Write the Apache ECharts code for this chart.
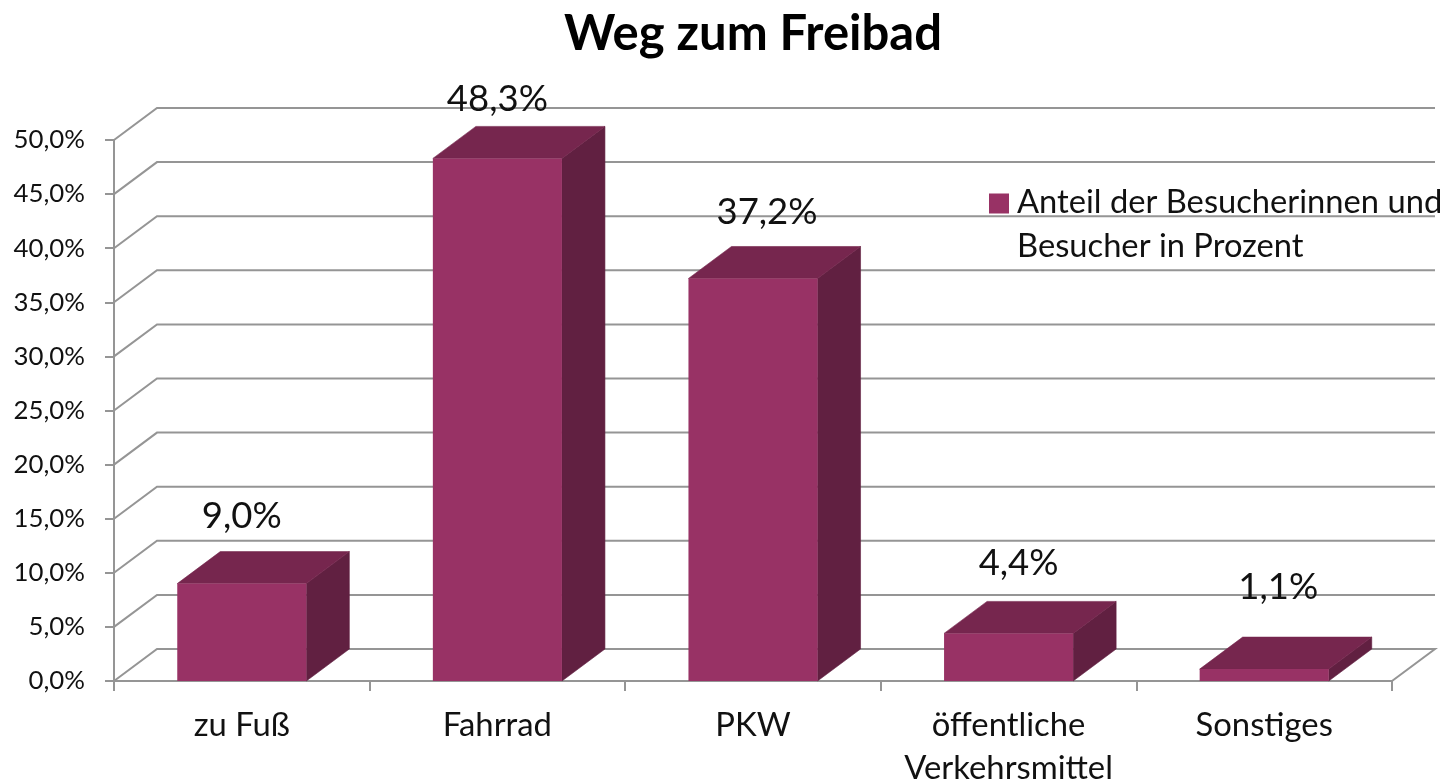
<!DOCTYPE html>
<html><head><meta charset="utf-8">
<style>html,body{margin:0;padding:0;background:#fff}#c{width:1447px;height:784px}</style>
<script src="https://cdn.jsdelivr.net/npm/echarts@6/dist/echarts.min.js"></script>
</head><body><div id="c"></div>
<script>
const titleText = 'Weg zum Freibad';
const seriesName = 'Anteil der Besucherinnen und Besucher in Prozent';
const categories = ['zu Fuß', 'Fahrrad', 'PKW', 'öffentliche\nVerkehrsmittel', 'Sonstiges'];
const shares = [9.0, 48.3, 37.2, 4.4, 1.1];
const wallTicks = [0, 5, 10, 15, 20, 25, 30, 35, 40, 45, 50];
// label placement relative to the bar's top-centre, in pixels
const labelShift = [[0, -67], [0, -59], [14, -66], [10, -70], [14, -82]];
const FONT = 'Lato';
const DX = 43, DY = 32;
const INK = '#111111', GRID = '#959595';

const chart = echarts.init(document.getElementById('c'));
chart.setOption({
  animation: false,
  backgroundColor: '#ffffff',
  title: { text: titleText, left: 748, top: 5, textAlign: 'center',
    textStyle: { fontFamily: FONT, fontSize: 49, fontWeight: 'bold', color: '#000' } },
  legend: {
    left: 989, top: 180, orient: 'vertical', selectedMode: false,
    itemWidth: 20, itemHeight: 66, itemGap: 0, padding: 0,
    icon: 'path://M0,5H20V25H0Z M0,66L0,66',
    data: [{ name: seriesName, itemStyle: { color: '#983265' } }],
    formatter: () => 'Anteil der Besucherinnen und\nBesucher in Prozent',
    textStyle: { fontFamily: FONT, fontSize: 32.7, color: INK, lineHeight: 44, padding: [0,0,0,3] }
  },
  grid: { left: 114, right: 55, top: 140, bottom: 103, containLabel: false, outerBoundsMode: 'none' },
  xAxis: {
    type: 'category', data: categories,
    axisLine: { lineStyle: { color: GRID, width: 2 } },
    axisTick: { show: true, length: 10, alignWithLabel: false, lineStyle: { color: GRID, width: 2 } },
    axisLabel: { fontFamily: FONT, fontSize: 32.8, color: INK, margin: 23, lineHeight: 43, interval: 0 }
  },
  yAxis: {
    type: 'value', min: 0, max: 50, interval: 5,
    axisLine: { show: true, lineStyle: { color: GRID, width: 2 } },
    axisTick: { show: true, length: 9, lineStyle: { color: GRID, width: 2 } },
    splitLine: { show: false },
    axisLabel: { fontFamily: FONT, fontSize: 25.8, color: INK, margin: 29, padding: [4, 0, 0, 0],
      formatter: v => v.toFixed(1).replace('.', ',') + '%' }
  },
  series: [
    {
      type: 'custom', name: 'wall', silent: true, z: 1, clip: false,
      data: wallTicks.map(v => [0, v]),
      encode: { x: 0, y: 1 },
      renderItem(params, api) {
        const cs = params.coordSys;
        const y = api.coord([0, api.value(1)])[1];
        const x0 = cs.x, x1 = cs.x + cs.width;
        const pts = [[x0, y], [x0 + DX, y - DY], [x1 + DX, y - DY]];
        if (api.value(1) === 0) pts.push([x1, y]);
        return { type: 'polyline', shape: { points: pts },
          style: { stroke: GRID, lineWidth: 2, fill: null } };
      }
    },
    {
      type: 'custom', name: seriesName, silent: true, z: 3, clip: false,
      itemStyle: { color: '#983265' },
      data: shares.map((v, i) => [i, v]),
      encode: { x: 0, y: 1 },
      renderItem(params, api) {
        const i = api.value(0), v = api.value(1);
        const top = api.coord([i, v]), base = api.coord([i, 0]);
        const w = api.size([1, 0])[0] * 0.505;
        const l = top[0] - w / 2, r = top[0] + w / 2;
        const s = labelShift[params.dataIndex];
        return { type: 'group', children: [
          { type: 'polygon', shape: { points: [[r, top[1]], [r + DX, top[1] - DY], [r + DX, base[1] - DY], [r, base[1]]] },
            style: { fill: '#612041', stroke: '#612041', lineWidth: 0.6 } },
          { type: 'polygon', shape: { points: [[l, top[1]], [l + DX, top[1] - DY], [r + DX, top[1] - DY], [r, top[1]]] },
            style: { fill: '#76264e', stroke: '#76264e', lineWidth: 0.6 } },
          { type: 'rect', shape: { x: l, y: top[1], width: w, height: base[1] - top[1] },
            style: { fill: '#983265' } },
          { type: 'text', z2: 10, x: top[0] + s[0], y: top[1] + s[1],
            style: { text: v.toFixed(1).replace('.', ',') + '%', fontFamily: FONT, fontSize: 36.5,
              fill: INK, align: 'center', verticalAlign: 'middle' } }
        ] };
      }
    }
  ]
});
</script></body></html>
